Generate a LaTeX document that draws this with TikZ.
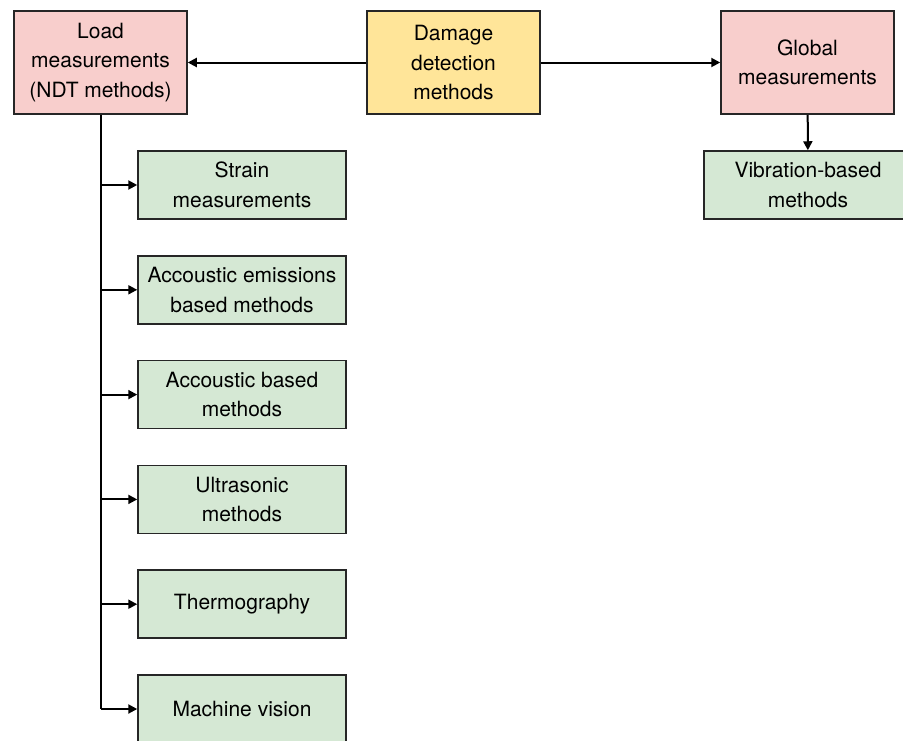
\documentclass[tikz,border=0pt]{standalone}
\usepackage{fontspec}
\setmainfont{TeX Gyre Heros}
\usetikzlibrary{arrows.meta}
\definecolor{rootfill}{HTML}{FFE599}
\definecolor{groupfill}{HTML}{F8CECC}
\definecolor{methodfill}{HTML}{D5E8D4}
\tikzset{
  box/.style={draw=black!85, line width=1.5pt, align=center, inner sep=0pt,
    font=\fontsize{21}{29.5}\selectfont},
  mainbox/.style={box, minimum width=173pt, minimum height=103pt},
  rootbox/.style={mainbox, fill=rootfill},
  groupbox/.style={mainbox, fill=groupfill},
  methodbox/.style={box, fill=methodfill, minimum width=208pt, minimum height=68pt},
  trunk/.style={line width=2pt},
  link/.style={trunk, -{Triangle[length=9pt,width=9pt]}},
}

\begin{document}
\begin{tikzpicture}[x=1pt, y=-1pt]
    \useasboundingbox (0,0) rectangle (903,740);
    \clip (0,0) rectangle (903,740);
    % top row
    \node[groupbox] (load) at (100.5,62.5) {Load\\measurements\\(NDT methods)};
    \node[rootbox] (damage) at (453.5,62.5) {Damage\\detection\\methods};
    \node[groupbox] (global) at (807.5,62.5) {Global\\measurements};
    \draw[link] (damage) -- (load);
    \draw[link] (damage) -- (global);
    % global branch
    \node[methodbox] (vib) at (808,185) {Vibration-based\\methods};
    \draw[link] (global) -- (vib);
    % NDT methods, one below the other
    \foreach \txt [count=\i] in {{Strain\\measurements},
        {Accoustic emissions\\based methods}, {Accoustic based\\methods},
        {Ultrasonic\\methods}, {Thermography}, {Machine vision}}
      { \node[methodbox] (m\i) at (242,{185+104.8*(\i-1)}) {\txt}; }
    \draw[trunk] (load.south) -- (load.south |- m6.west);
    \foreach \i in {1,...,6}
      { \draw[link] (load.south |- m\i.west) -- (m\i.west); }
  \end{tikzpicture}
\end{document}
